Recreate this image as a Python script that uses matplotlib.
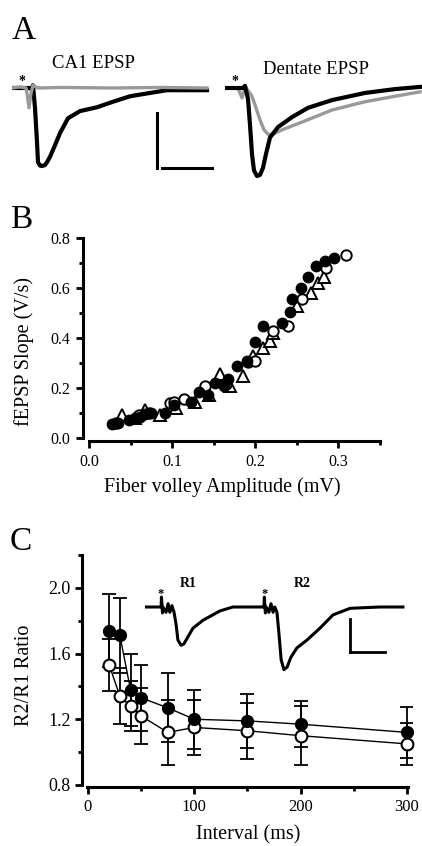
import matplotlib
matplotlib.use("Agg")
import matplotlib.pyplot as plt
from matplotlib.ticker import FormatStrFormatter

plt.rcParams['font.family'] = ['Liberation Serif', 'DejaVu Serif']

W, H = 422, 846

# ---- Panel A traces (time in ms, amplitude in mV) ----
ca1_black_t = [0, 3.6, 4.0, 4.2, 4.6, 5.0, 5.2, 5.6, 6.0, 6.6, 7.0, 7.6, 8.6, 9.6, 11.2,
               13.6, 17.0, 20.2, 23.6, 27.6, 31.0, 39.0]
ca1_black_v = [0, 0, -0.04, 0.05, -0.36, -0.98, -1.35, -1.41, -1.42, -1.4, -1.35, -1.25,
               -1.04, -0.82, -0.55, -0.42, -0.35, -0.25, -0.15, -0.09, -0.04, -0.04]
ca1_grey_t = [0, 1.6, 2.8, 3.0, 3.4, 3.8, 4.2, 5.2, 10, 20, 30, 39]
ca1_grey_v = [0, 0.02, 0, -0.1, -0.36, -0.1, 0.05, 0, 0.01, 0, 0.01, 0]

dg_black_t = [0, 3.6, 4.0, 4.6, 5.0, 5.4, 5.8, 6.4, 7.0, 7.6, 8.2, 9.0, 10.6, 13.4,
              16.6, 21.4, 28.0, 34.0, 39.0]
dg_black_v = [0, 0, 0.04, -0.2, -0.67, -1.2, -1.5, -1.6, -1.58, -1.45, -1.2, -0.9,
              -0.71, -0.53, -0.36, -0.22, -0.09, -0.02, 0.02]
dg_grey_t = [0, 2.6, 3.4, 4.0, 4.4, 5.4, 6.2, 7.0, 7.8, 8.6, 9.4, 11.4, 15.4, 21.4,
             28.0, 34.0, 39.0]
dg_grey_v = [0, 0, -0.18, 0.02, -0.02, -0.15, -0.36, -0.58, -0.76, -0.84, -0.85, -0.76,
             -0.62, -0.4, -0.25, -0.15, -0.07]

# ---- Panel B: fEPSP slope vs fiber volley ----
filled_x = [0.028, 0.035, 0.048, 0.055, 0.062, 0.068, 0.075, 0.092, 0.103, 0.123, 0.133,
            0.143, 0.152, 0.163, 0.168, 0.178, 0.19, 0.2, 0.21, 0.232, 0.242, 0.245,
            0.255, 0.264, 0.274, 0.284, 0.295]
filled_y = [0.055, 0.06, 0.072, 0.08, 0.085, 0.095, 0.10, 0.10, 0.13, 0.145, 0.185,
            0.17, 0.22, 0.21, 0.235, 0.29, 0.31, 0.385, 0.45, 0.46, 0.505, 0.555,
            0.60, 0.645, 0.69, 0.71, 0.72]
open_x = [0.032, 0.06, 0.072, 0.098, 0.102, 0.115, 0.14, 0.165, 0.192, 0.2, 0.222,
          0.24, 0.257, 0.285, 0.31]
open_y = [0.06, 0.09, 0.10, 0.14, 0.145, 0.155, 0.21, 0.215, 0.305, 0.31, 0.43,
          0.45, 0.555, 0.68, 0.733]
tri_x = [0.04, 0.055, 0.068, 0.085, 0.105, 0.128, 0.145, 0.158, 0.17, 0.185, 0.198,
         0.21, 0.218, 0.222, 0.25, 0.268, 0.276, 0.283]
tri_y = [0.09, 0.08, 0.11, 0.09, 0.12, 0.145, 0.17, 0.255, 0.21, 0.25, 0.33,
         0.36, 0.39, 0.42, 0.53, 0.58, 0.62, 0.645]

# ---- Panel C: paired-pulse ratio ----
intervals = [20, 30, 40, 50, 75, 100, 150, 200, 300]
ratio_filled = [1.74, 1.71, 1.38, 1.33, 1.27, 1.20, 1.19, 1.17, 1.12]
err_filled = [0.22, 0.23, 0.22, 0.20, 0.21, 0.18, 0.165, 0.14, 0.155]
ratio_open = [1.53, 1.34, 1.28, 1.22, 1.12, 1.15, 1.13, 1.10, 1.05]
err_open = [0.16, 0.17, 0.15, 0.17, 0.20, 0.17, 0.17, 0.18, 0.13]

pp_t = [0, 3.7, 4.6, 4.7, 5.0, 5.1, 6.0, 6.6, 7.1, 7.7, 8.3, 8.9, 9.4, 10.3, 11.1, 12.3,
        13.7, 16.6, 21.4, 25.1, 33.4, 34.0, 34.1, 34.4, 34.6, 35.4, 36.0, 36.6, 37.1,
        37.7, 38.3, 38.9, 39.7, 40.6, 41.7, 43.4, 46.3, 50.0, 53.7, 58.6, 67.1, 73.7]
pp_v = [0, 0, 0, 0.15, -0.09, 0, -0.08, 0.05, -0.08, 0.02, -0.08, -0.27, -0.5, -0.58,
        -0.56, -0.45, -0.32, -0.2, -0.06, 0, 0, 0, 0.15, -0.09, 0, -0.08, 0.05, -0.08,
        0, -0.08, -0.42, -0.8, -0.95, -0.91, -0.76, -0.62, -0.5, -0.32, -0.12, -0.02,
        0, 0]


def px_rect(left, top, width, height):
    return [left / W, 1 - (top + height) / H, width / W, height / H]


fig = plt.figure(figsize=(W / 100, H / 100), dpi=100)

# Panel A
ax_ca1 = fig.add_axes(px_rect(12, 66, 205, 121))
ax_ca1.plot(ca1_black_t, ca1_black_v, color='black', lw=3.0, solid_joinstyle='round')
ax_ca1.plot(ca1_grey_t, ca1_grey_v, color='#999999', lw=2.4)
ax_ca1.plot([29.0, 29.0], [-0.455, -1.455], color='black', lw=2.2)
ax_ca1.plot([30.0, 40.0], [-1.455, -1.455], color='black', lw=2.2)
ax_ca1.text(2.0, 0.12, '*', ha='center', va='center', fontsize=10, fontweight='bold')
ax_ca1.set_xlim(0, 41)
ax_ca1.set_ylim(-1.8, 0.4)
ax_ca1.axis('off')

ax_dg = fig.add_axes(px_rect(225, 66, 197, 121))
ax_dg.plot(dg_grey_t, dg_grey_v, color='#999999', lw=2.4)
ax_dg.plot(dg_black_t, dg_black_v, color='black', lw=3.0, solid_joinstyle='round')
ax_dg.text(2.0, 0.12, '*', ha='center', va='center', fontsize=10, fontweight='bold')
ax_dg.set_xlim(0, 39.4)
ax_dg.set_ylim(-1.8, 0.4)
ax_dg.axis('off')

fig.text(12 / W, 1 - 39 / H, 'A', fontsize=24, va='baseline')
fig.text(52 / W, 1 - 68 / H, 'CA1 EPSP', fontsize=13.5, va='baseline')
fig.text(263 / W, 1 - 74 / H, 'Dentate EPSP', fontsize=13.5, va='baseline')

# Panel B
axb = fig.add_axes(px_rect(83, 238, 302, 203))
axb.plot(tri_x, tri_y, '^', ms=8, mfc='white', mec='black', mew=1.4, ls='none', clip_on=False)
axb.plot(open_x, open_y, 'o', ms=7.5, mfc='white', mec='black', mew=1.4, ls='none', clip_on=False)
axb.plot(filled_x, filled_y, 'o', ms=7.5, mfc='black', mec='black', ls='none', clip_on=False)
axb.set_xlim(-0.00723, 0.3566)
axb.set_ylim(-0.012, 0.8)
axb.set_xticks([0, 0.1, 0.2, 0.3])
axb.set_xticks([0.05, 0.15, 0.25, 0.35], minor=True)
axb.set_yticks([0, 0.2, 0.4, 0.6, 0.8])
axb.set_yticks([0.1, 0.3, 0.5, 0.7], minor=True)
axb.xaxis.set_major_formatter(FormatStrFormatter('%.1f'))
axb.yaxis.set_major_formatter(FormatStrFormatter('%.1f'))
axb.spines['left'].set_bounds(0, 0.8)
axb.spines['bottom'].set_bounds(0, 0.35)
axb.set_xlabel('Fiber volley Amplitude (mV)', fontsize=14.5)
axb.set_ylabel('fEPSP Slope (V/s)', fontsize=14.5)
axb.xaxis.set_label_coords(0.46, -0.177)
axb.yaxis.set_label_coords(-0.163, 0.443)
fig.text(10 / W, 1 - 228 / H, 'B', fontsize=24, va='baseline')

# Panel C
axc = fig.add_axes(px_rect(82, 555, 330, 231.6))
axc.errorbar(intervals, ratio_filled, yerr=err_filled, fmt='none', ecolor='black',
             elinewidth=1.3, capsize=5, capthick=1.3, zorder=2)
axc.errorbar(intervals, ratio_open, yerr=err_open, fmt='none', ecolor='black',
             elinewidth=1.3, capsize=5, capthick=1.3, zorder=2)
axc.plot(intervals, ratio_filled, '-', color='black', lw=1.0, zorder=3)
axc.plot(intervals, ratio_open, '-', color='black', lw=1.0, zorder=3)
axc.plot(intervals, ratio_open, 'o', ms=8.5, mfc='white', mec='black', mew=1.5, zorder=4,
         clip_on=False)
axc.plot(intervals, ratio_filled, 'o', ms=8.5, mfc='black', mec='black', zorder=5,
         clip_on=False)
axc.set_xlim(-5.64, 304.8)
axc.set_ylim(0.79, 2.2)
axc.set_xticks([0, 100, 200, 300])
axc.set_xticks([50, 150, 250], minor=True)
axc.set_yticks([0.8, 1.2, 1.6, 2.0])
axc.set_yticks([1.0, 1.4, 1.8, 2.2], minor=True)
axc.yaxis.set_major_formatter(FormatStrFormatter('%.1f'))
axc.spines['left'].set_bounds(0.8, 2.2)
axc.spines['bottom'].set_bounds(-1, 301)
axc.set_xlabel('Interval (ms)', fontsize=14.5)
axc.set_ylabel('R2/R1 Ratio', fontsize=14.5)
axc.xaxis.set_label_coords(0.503, -0.168)
axc.yaxis.set_label_coords(-0.145, 0.482)
fig.text(10 / W, 1 - 550 / H, 'C', fontsize=24, va='baseline')

for ax in (axb, axc):
    for side in ('top', 'right'):
        ax.spines[side].set_visible(False)
    for side in ('left', 'bottom'):
        ax.spines[side].set_linewidth(2.2)
    ax.tick_params(which='major', direction='out', length=5, width=2, labelsize=11.5, pad=4)
    ax.tick_params(which='minor', direction='out', length=3, width=2)
axc.tick_params(axis='y', which='major', labelsize=13, pad=3)
axc.tick_params(axis='x', which='major', labelsize=12)

# Panel C inset: paired-pulse trace
ax_pp = fig.add_axes(px_rect(145, 574, 262.5, 105.6))
ax_pp.plot(pp_t, pp_v, color='black', lw=2.2, solid_joinstyle='round')
ax_pp.plot([58.6, 58.6], [-0.18, -0.68], color='black', lw=2.0)
ax_pp.plot([58.6, 68.6], [-0.68, -0.68], color='black', lw=2.0)
ax_pp.text(4.6, 0.2, '*', ha='center', va='center', fontsize=9, fontweight='bold')
ax_pp.text(34.3, 0.19, '*', ha='center', va='center', fontsize=9, fontweight='bold')
ax_pp.text(12.3, 0.36, 'R1', ha='center', va='center', fontsize=10, fontweight='bold')
ax_pp.text(44.9, 0.35, 'R2', ha='center', va='center', fontsize=10, fontweight='bold')
ax_pp.set_xlim(0, 75)
ax_pp.set_ylim(-1.1, 0.5)
ax_pp.axis('off')

fig.savefig('out.png', dpi=100)
